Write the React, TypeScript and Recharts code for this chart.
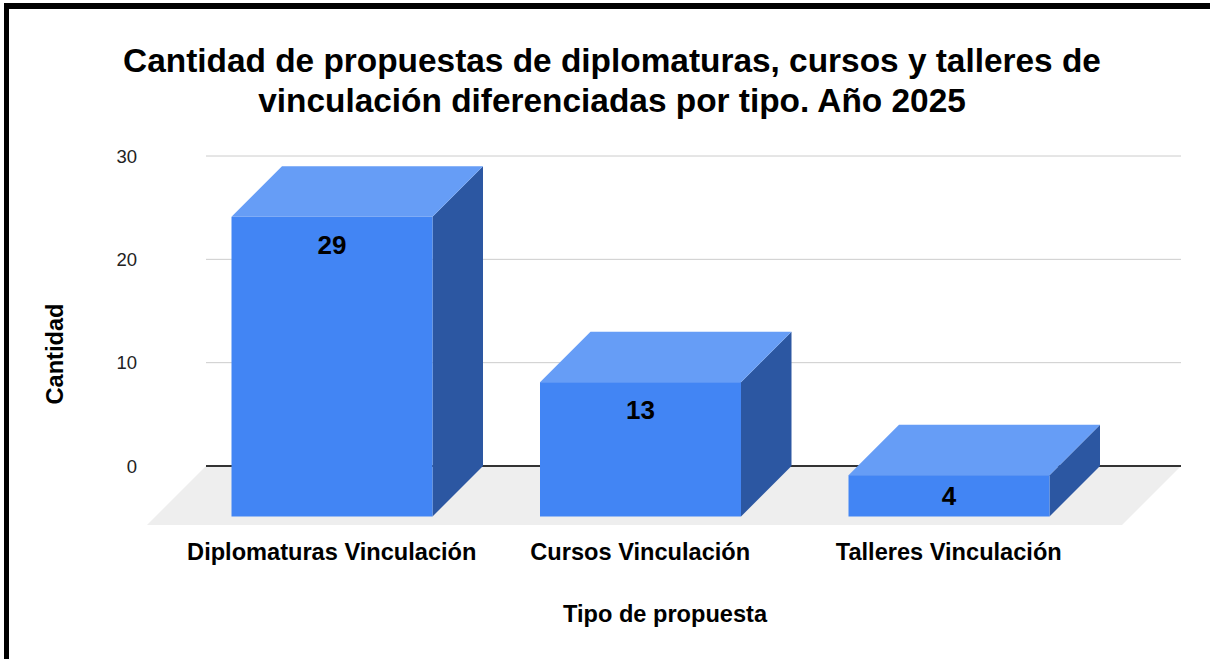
import React from 'react';
import { BarChart, Bar, XAxis, YAxis, CartesianGrid, LabelList } from 'recharts';

const categories = ['Diplomaturas Vinculación', 'Cursos Vinculación', 'Talleres Vinculación'];
const values = [29, 13, 4];
const yTicks = [0, 10, 20, 30];

const titleLines = [
  'Cantidad de propuestas de diplomaturas, cursos y talleres de',
  'vinculación diferenciadas por tipo. Año 2025',
];
const yAxisTitle = 'Cantidad';
const xAxisTitle = 'Tipo de propuesta';

const data = categories.map((name, i) => ({ name, value: values[i] }));

const W = 1210;
const H = 659;
const MARGIN = { top: 156, right: 29, bottom: 163, left: 137 };
const X_AXIS_H = 30;
const Y_AXIS_W = 69;
const ZERO_Y = H - MARGIN.bottom - X_AXIS_H;
const DX = 50.5;
const DY = 50.5;
const FLOOR_D = 59;
const FONT = '"Liberation Sans", Arial, Helvetica, sans-serif';
const AXIS_FS = 23.6;

const FRONT = '#4285f4';
const TOP = '#669df6';
const SIDE = '#2c57a2';

const Bar3D = (props: any) => {
  const x = Number(props.x);
  const y = Number(props.y);
  const w = Number(props.width);
  const h = Number(props.height);
  if (!isFinite(x) || !isFinite(y)) return null;
  return (
    <g>
      <polygon
        points={`${x + w - DX},${y + DY} ${x + w},${y} ${x + w},${y + h} ${x + w - DX},${y + h + DY}`}
        fill={SIDE}
      />
      <polygon
        points={`${x - DX},${y + DY} ${x},${y} ${x + w},${y} ${x + w - DX},${y + DY}`}
        fill={TOP}
      />
      <rect x={x - DX} y={y + DY} width={w} height={h} fill={FRONT} />
    </g>
  );
};

const ValueLabel = (props: any) => {
  const x = Number(props.x);
  const y = Number(props.y);
  const w = Number(props.width);
  const h = Number(props.height);
  const cy = y + DY + Math.min(28, h / 2);
  return (
    <text
      x={x + w / 2 - DX}
      y={cy}
      textAnchor="middle"
      dominantBaseline="central"
      fontFamily={FONT}
      fontWeight="bold"
      fontSize={26}
      fill="#000"
    >
      {props.value}
    </text>
  );
};

const XTick = (props: any) => {
  const { x, payload } = props;
  return (
    <text
      x={Number(x) - DX}
      y={560}
      textAnchor="middle"
      fontFamily={FONT}
      fontWeight="bold"
      fontSize={AXIS_FS}
      fill="#000"
    >
      {payload.value}
    </text>
  );
};

const YTick = (props: any) => {
  const { y, payload } = props;
  return (
    <text
      x={137}
      y={Number(y)}
      textAnchor="end"
      dominantBaseline="central"
      fontFamily={FONT}
      fontSize={18.5}
      fill="#222"
    >
      {payload.value}
    </text>
  );
};

const GridLine = (props: any) => {
  const { x1, y1, x2, y2, key } = props;
  if (Math.abs(Number(y1) - ZERO_Y) < 0.5) {
    return (
      <g key={key}>
        <polygon
          points={`${x1},${y1} ${x2},${y1} ${x2 - FLOOR_D},${y1 + FLOOR_D} ${x1 - FLOOR_D},${y1 + FLOOR_D}`}
          fill="#eeeeee"
        />
        <line x1={x1} y1={y1} x2={x2} y2={y2} stroke="#333333" strokeWidth={2} />
      </g>
    );
  }
  return <line key={key} x1={x1} y1={y1} x2={x2} y2={y2} stroke="#cccccc" strokeWidth={1} />;
};

export default function App() {
  return (
    <div
      style={{
        position: 'absolute',
        left: 0,
        top: 0,
        width: W,
        height: H,
        background: '#fff',
        overflow: 'hidden',
      }}
    >
      <BarChart width={W} height={H} data={data} margin={MARGIN}>
        <CartesianGrid vertical={false} horizontal={GridLine} />
        <XAxis
          dataKey="name"
          height={X_AXIS_H}
          padding={{ left: 22, right: 27.5 }}
          axisLine={false}
          tickLine={false}
          interval={0}
          tick={XTick}
        />
        <YAxis
          width={Y_AXIS_W}
          domain={[0, 30]}
          ticks={yTicks}
          axisLine={false}
          tickLine={false}
          tick={YTick}
        />
        <Bar dataKey="value" barSize={201} shape={Bar3D} isAnimationActive={false}>
          <LabelList dataKey="value" content={ValueLabel} />
        </Bar>
      </BarChart>
      <div
        style={{
          position: 'absolute',
          left: 0,
          top: 41,
          width: 1224,
          textAlign: 'center',
          fontFamily: FONT,
          fontWeight: 'bold',
          fontSize: 33.4,
          lineHeight: '40px',
          color: '#000',
          whiteSpace: 'nowrap',
        }}
      >
        {titleLines.map((t) => (
          <div key={t}>{t}</div>
        ))}
      </div>
      <svg
        width={W}
        height={H}
        style={{ position: 'absolute', left: 0, top: 0, pointerEvents: 'none' }}
      >
        <text
          x={55}
          y={354}
          transform="rotate(-90 55 354)"
          textAnchor="middle"
          dominantBaseline="central"
          fontFamily={FONT}
          fontWeight="bold"
          fontSize={AXIS_FS}
          fill="#000"
        >
          {yAxisTitle}
        </text>
        <text
          x={665}
          y={622}
          textAnchor="middle"
          fontFamily={FONT}
          fontWeight="bold"
          fontSize={AXIS_FS}
          fill="#000"
        >
          {xAxisTitle}
        </text>
      </svg>
      <div
        style={{
          position: 'absolute',
          left: 4,
          top: 3,
          width: W,
          height: H,
          borderTop: '6px solid #000',
          borderLeft: '5px solid #000',
          boxSizing: 'border-box',
          pointerEvents: 'none',
        }}
      />
    </div>
  );
}
